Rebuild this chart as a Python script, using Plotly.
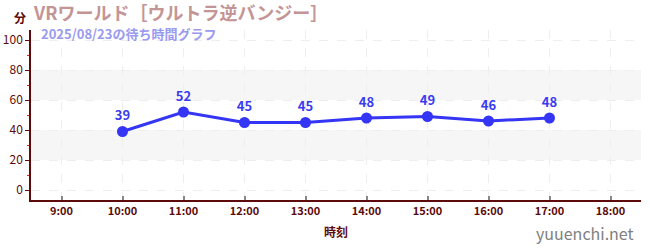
import plotly.graph_objects as go

hours = [10, 11, 12, 13, 14, 15, 16, 17]
waits = [39, 52, 45, 45, 48, 49, 46, 48]
tick_hours = [9, 10, 11, 12, 13, 14, 15, 16, 17, 18]
tick_labels = ["9:00", "10:00", "11:00", "12:00", "13:00", "14:00", "15:00", "16:00", "17:00", "18:00"]
y_ticks = [0, 20, 40, 60, 80, 100]
bands = [(20, 40), (60, 80)]

title = "VRワールド［ウルトラ逆バンジー］"
subtitle = "2025/08/23の待ち時間グラフ"

font = "Noto Sans CJK JP"
dark = "#5c0a0a"

fig = go.Figure()
fig.add_trace(go.Scatter(
    x=hours, y=waits, mode="lines+markers+text",
    text=[str(v) for v in waits], textposition="top center",
    textfont=dict(family=font, size=13, color="#3a3af0", weight="bold"),
    line=dict(color="#3535f5", width=3),
    marker=dict(color="#3535f5", size=11),
    hoverinfo="skip", cliponaxis=False,
))

shapes = []
for lo, hi in bands:
    shapes.append(dict(type="rect", xref="paper", yref="y", x0=0, x1=1, y0=lo, y1=hi,
                       fillcolor="#f6f6f6", line=dict(width=0), layer="below"))

fig.update_layout(
    width=650, height=250,
    margin=dict(l=31, r=9, t=30, b=50),
    paper_bgcolor="white", plot_bgcolor="white",
    showlegend=False,
    shapes=shapes,
    font=dict(family=font, color=dark),
    xaxis=dict(
        range=[8.5, 18.5], tickvals=tick_hours, ticktext=tick_labels,
        showgrid=True, gridcolor="#eeeeee", griddash="dash", gridwidth=1,
        showline=True, linecolor=dark, linewidth=1.5,
        ticks="inside", ticklen=4, tickcolor="#888888", tickwidth=2,
        tickfont=dict(family=font, size=11, color=dark, weight="bold"),
        title=dict(text="時刻", font=dict(family=font, size=12, color=dark, weight="bold"), standoff=12),
        zeroline=False, fixedrange=True, automargin=False,
    ),
    yaxis=dict(
        range=[-6.67, 106.67], tickvals=y_ticks,
        showgrid=True, gridcolor="#eeeeee", griddash="dash", gridwidth=1,
        showline=True, linecolor=dark, linewidth=1.5,
        ticks="outside", ticklen=4, tickcolor=dark, tickwidth=1,
        tickfont=dict(family=font, size=12, color=dark),
        minor=dict(dtick=20, tick0=10, ticks="outside", ticklen=2, tickcolor="#dd2222", showgrid=False),
        zeroline=False, fixedrange=True, automargin=False,
    ),
    annotations=[
        dict(text=title, xref="paper", yref="paper", x=0, y=1.0, xshift=0, yshift=18,
             xanchor="left", yanchor="middle", showarrow=False,
             font=dict(family=font, size=18, color="#c49595", weight="bold")),
        dict(text="分", xref="paper", yref="paper", x=0, y=1.0, xshift=-11, yshift=13,
             xanchor="center", yanchor="middle", showarrow=False,
             font=dict(family=font, size=12, color=dark, weight="bold")),
        dict(text=subtitle, xref="paper", yref="paper", x=0, y=1.0, xshift=8, yshift=-3,
             xanchor="left", yanchor="middle", showarrow=False,
             font=dict(family=font, size=13, color="#9a9af0", weight="bold")),
        dict(text="yuuenchi.net", xref="paper", yref="paper", x=1, y=0, xshift=-5, yshift=-33,
             xanchor="right", yanchor="middle", showarrow=False,
             font=dict(family=font, size=16, color="#808080")),
    ],
)

fig.write_html("out.html")
